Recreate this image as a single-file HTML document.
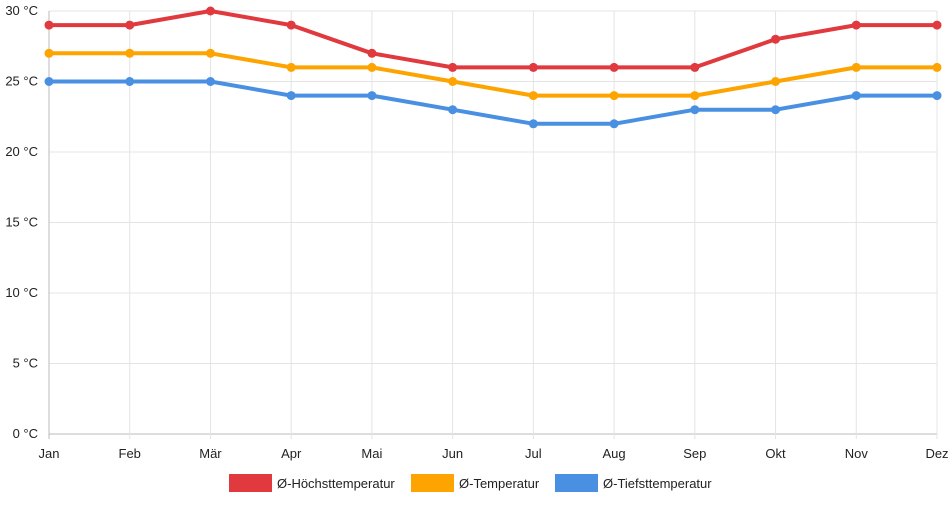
<!DOCTYPE html>
<html><head><meta charset="utf-8"><style>
body{margin:0;background:#fff;font-family:"Liberation Sans",sans-serif;}
svg text{font-family:"Liberation Sans",sans-serif;font-size:13px;fill:#222;}
</style></head><body>
<svg id="chart" width="952" height="500">
<g id="grid"></g>
<g id="axes"></g>
<g id="series"></g>
<g id="legend"></g>
</svg>
<script>
const categories=["Jan","Feb","Mär","Apr","Mai","Jun","Jul","Aug","Sep","Okt","Nov","Dez"];
const maxTemp=[29,29,30,29,27,26,26,26,26,28,29,29];
const avgTemp=[27,27,27,26,26,25,24,24,24,25,26,26];
const minTemp=[25,25,25,24,24,23,22,22,23,23,24,24];
const yTicks=[0,5,10,15,20,25,30];
const seriesNames=["Ø-Höchsttemperatur","Ø-Temperatur","Ø-Tiefsttemperatur"];
const NS="http://www.w3.org/2000/svg";
const X0=49,X1=937,Y0=434,Y1=11;
const x=i=>X0+i*(X1-X0)/(categories.length-1);
const y=v=>Y0-(v/30)*(Y0-Y1);
function mk(tag,attrs,parent){const e=document.createElementNS(NS,tag);for(const k in attrs)e.setAttribute(k,attrs[k]);parent.appendChild(e);return e;}
const grid=document.getElementById('grid'),axes=document.getElementById('axes'),ser=document.getElementById('series'),leg=document.getElementById('legend');
yTicks.forEach(t=>{
 const l=mk('line',{x1:X0,x2:X1,y1:y(t),y2:y(t),stroke:t===0?'#bbb':'#e4e4e4','stroke-width':1},grid);
 
 
 const tx=mk('text',{x:38,y:y(t)+4,'text-anchor':'end'},axes);
 tx.textContent=t+' °C';
 
 
});
categories.forEach((c,i)=>{
 const l=mk('line',{x1:x(i),x2:x(i),y1:Y1,y2:Y0+5,stroke:i===0?'#bbb':'#e4e4e4','stroke-width':1},grid);
 
 
 const tx=mk('text',{x:x(i),y:458,'text-anchor':'middle'},axes);
 tx.textContent=c;
 
 
});
const colors=["#e0393e","#fda400","#4a90e2"];
[maxTemp,avgTemp,minTemp].forEach((d,s)=>{
 const p=mk('polyline',{points:d.map((v,i)=>x(i)+','+y(v)).join(' '),fill:'none',stroke:colors[s],'stroke-width':4,'stroke-linejoin':'round'},ser);
 
 
 d.forEach((v,i)=>{
  const c=mk('circle',{cx:x(i),cy:y(v),r:4.5,fill:colors[s]},ser);
  
  
 });
});
const legX=[229,411,555];
seriesNames.forEach((n,s)=>{
 const g=mk('g',{},leg);
 
 
 mk('rect',{x:legX[s],y:474,width:43,height:18,fill:colors[s]},g);
 const t=mk('text',{x:legX[s]+48,y:488},g);
 t.textContent=n;
});
</script>
</body></html>
